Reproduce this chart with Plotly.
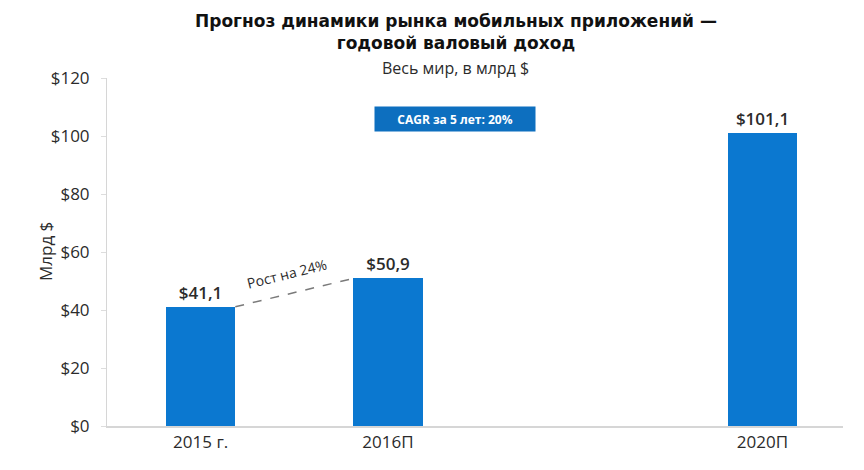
import plotly.graph_objects as go

# Axis slots (an empty slot keeps the gap between 2016 and 2020)
axis_slots = ["2015 г.", "2016П", None, "2020П"]
categories = ["2015 г.", "2016П", "2020П"]
revenue = [41.1, 50.9, 101.1]
growth_label = "Рост на 24%"
cagr_label = "CAGR за 5 лет: 20%"
y_title = "Млрд $"
y_ticks = [0, 20, 40, 60, 80, 100, 120]
y_tick_text = ["$" + str(v) for v in y_ticks]

BLUE = "#0B78D0"
TEXT = "#2b2b2b"
FONT = "'Open Sans', sans-serif"
TITLE_FONT = "'DejaVu Sans', sans-serif"
BAR_W = 0.37

xpos = [axis_slots.index(c) for c in categories]

fig = go.Figure()
fig.add_trace(go.Bar(
    x=xpos, y=revenue, width=BAR_W,
    marker=dict(color=BLUE, line=dict(width=0)),
    texttemplate="$%{y:.1f}", textposition="outside",
    textfont=dict(size=17, color=TEXT, family=FONT, weight=600),
    cliponaxis=False, showlegend=False,
))

# Dashed connector between the 2015 and 2016 bar tops
fig.add_trace(go.Scatter(
    x=[xpos[0] + BAR_W / 2, xpos[1] - BAR_W / 2],
    y=[revenue[0], revenue[1]],
    mode="lines", line=dict(color="#7a7a7a", width=1.5, dash="dash"),
    showlegend=False, hoverinfo="skip",
))

fig.add_annotation(
    x=(xpos[0] + xpos[1]) / 2, y=(revenue[0] + revenue[1]) / 2,
    text=growth_label, textangle=-14, showarrow=False,
    yshift=19, xshift=-7, font=dict(size=14, color=TEXT, family=FONT),
)

fig.add_annotation(
    x=1.36, y=106, text="<b>" + cagr_label + "</b>", showarrow=False,
    bgcolor="#0D6FBF", font=dict(size=12, color="white", family=FONT),
    borderpad=5, width=150, height=14,
)

fig.update_layout(
    width=864, height=470,
    margin=dict(l=107, r=21, t=78, b=44),
    paper_bgcolor="white", plot_bgcolor="white",
    separators=", ",
    font=dict(family=FONT, color=TEXT),
    bargap=0,
    annotations=list(fig.layout.annotations) + [
        dict(xref="paper", yref="paper", x=0.474, y=1.0, yshift=46,
             text="<b>Прогноз динамики рынка мобильных приложений —<br>годовой валовый доход</b>",
             showarrow=False, font=dict(size=17, color="#111111", family=TITLE_FONT),
             align="center", yanchor="middle"),
        dict(xref="paper", yref="paper", x=0.474, y=1.0, yshift=10,
             text="Весь мир, в млрд $", showarrow=False,
             font=dict(size=16, color=TEXT, family=FONT), yanchor="middle"),
        # y-axis title placed close to the tick labels
        dict(xref="paper", yref="paper", x=0, xshift=-62, y=0.5, yshift=0,
             text=y_title, textangle=-90, showarrow=False,
             font=dict(size=17, color=TEXT, family=FONT),
             xanchor="center", yanchor="middle"),
    ],
)

fig.update_xaxes(
    range=[-0.5, 3.43],
    tickvals=xpos, ticktext=categories,
    tickfont=dict(size=17, color=TEXT, family=FONT),
    showline=True, linecolor="#d6d6d6", linewidth=1.5,
    showgrid=False, zeroline=False, ticks="",
)
fig.update_yaxes(
    range=[0, 120], tickvals=y_ticks, ticktext=y_tick_text,
    tickfont=dict(size=17, color=TEXT, family=FONT),
    showline=True, linecolor="#d6d6d6", linewidth=1,
    ticks="outside", ticklen=5, tickcolor="#dddddd",
    ticklabelstandoff=8,
    showgrid=False, zeroline=False,
)

fig.write_html("out.html")
